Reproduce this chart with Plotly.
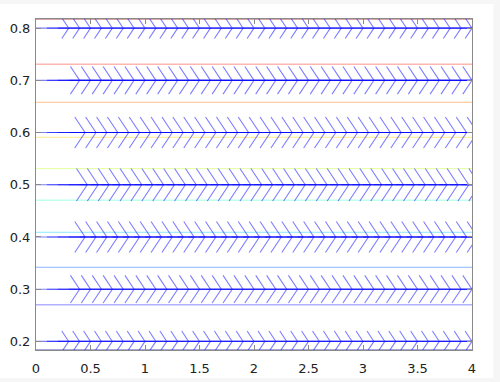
import numpy as np
import plotly.graph_objects as go

# ---- data ----
row_y = [0.2, 0.3, 0.4, 0.5, 0.6, 0.7, 0.8]          # rows of vectors
row_u = [0.30, 0.40, 0.45, 0.47, 0.45, 0.40, 0.30]   # vector length (x-direction) per row
grid_x = [round(v, 1) for v in np.arange(0, 4.0001, 0.1)]  # vector start positions

contour_y = [0.184, 0.270, 0.342, 0.409, 0.4705, 0.531, 0.591, 0.658, 0.731, 0.817]
contour_colors = ["#000090", "#0000ff", "#0060ff", "#00d0ff", "#30ffc0",
                  "#c8ff30", "#ffd000", "#ff7000", "#ff1000", "#900000"]

x_ticks = [0, 0.5, 1, 1.5, 2, 2.5, 3, 3.5, 4]
x_tick_text = ["0", "0.5", "1", "1.5", "2", "2.5", "3", "3.5", "4"]
y_ticks = [0.2, 0.3, 0.4, 0.5, 0.6, 0.7, 0.8]
y_tick_text = ["0.2", "0.3", "0.4", "0.5", "0.6", "0.7", "0.8"]

# ---- style ----
HEAD_DEPTH = 0.21   # fraction of vector length
HEAD_HALF = 0.066   # fraction of vector length (in y units)
N_GROUPS = 5
ARROW_COLOR = "#0000ff"
ARROW_ALPHA = 0.5

fig = go.Figure()

# contour lines
for cy, cc in zip(contour_y, contour_colors):
    fig.add_trace(go.Scatter(x=[0, 4], y=[cy, cy], mode="lines",
                             line=dict(color=cc, width=1), opacity=0.45,
                             hoverinfo="skip", showlegend=False))

# vectors: grouped so arrows within one trace don't overlap (group opacity stacks across traces)
for y, u in zip(row_y, row_u):
    for g in range(N_GROUPS):
        xs, ys = [], []
        for i, x0 in enumerate(grid_x):
            if i % N_GROUPS != g:
                continue
            tip = x0 + u
            xs += [x0, tip, None]
            ys += [y, y, None]
            xs += [tip - HEAD_DEPTH * u, tip, tip - HEAD_DEPTH * u, None]
            ys += [y + HEAD_HALF * u, y, y - HEAD_HALF * u, None]
        fig.add_trace(go.Scatter(x=xs, y=ys, mode="lines",
                                 line=dict(color=ARROW_COLOR, width=1.1),
                                 opacity=ARROW_ALPHA, connectgaps=False,
                                 hoverinfo="skip", showlegend=False))

axis_common = dict(showgrid=False, zeroline=False, showline=True, linecolor="#8a8a8a",
                   linewidth=1, mirror="allticks", ticks="inside", ticklen=5,
                   automargin=False,
                   tickcolor="#8a8a8a", tickfont=dict(family="DejaVu Sans", size=13, color="#222"))

fig.update_xaxes(range=[0, 4], tickvals=x_ticks, ticktext=x_tick_text,
                 ticklabelstandoff=6, **axis_common)
fig.update_yaxes(range=[0.1835, 0.8175], tickvals=y_ticks, ticktext=y_tick_text,
                 ticklabelstandoff=2, **axis_common)

W_PLOT = 471.7 - 36
H_PLOT = 350 - 19
fig.add_shape(type="rect", xref="paper", yref="paper",
              x0=-36 / W_PLOT, x1=(493 - 36) / W_PLOT,
              y0=-(378 - 350) / H_PLOT, y1=1 + (19 - 4) / H_PLOT,
              fillcolor="white", line=dict(width=0), layer="below")

fig.update_layout(width=500, height=382,
                  margin=dict(l=36, r=28.3, t=19, b=32),
                  paper_bgcolor="#f6f6f6", plot_bgcolor="white",
                  showlegend=False)

fig.write_html("out.html")
